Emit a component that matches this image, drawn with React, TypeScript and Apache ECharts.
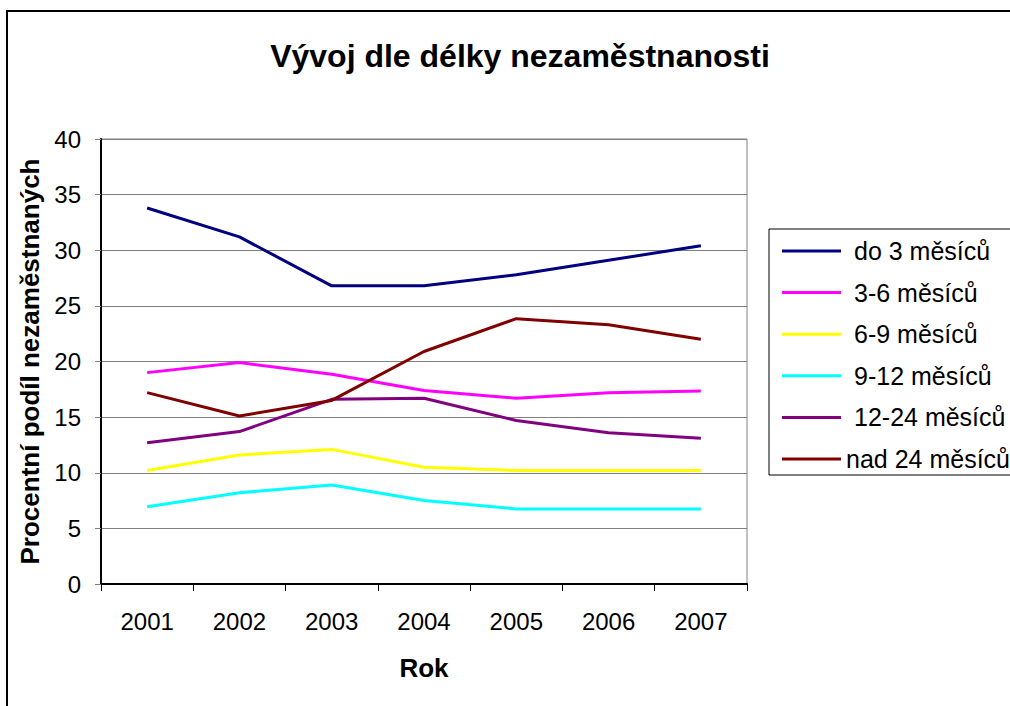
import React, { useEffect, useRef } from "react";
import * as echarts from "echarts";

const years = ["2001", "2002", "2003", "2004", "2005", "2006", "2007"];
const seriesNames = ["do 3 měsíců", "3-6 měsíců", "6-9 měsíců", "9-12 měsíců", "12-24 měsíců", "nad 24 měsíců"];
const do3 = [33.8, 31.2, 26.8, 26.8, 27.8, 29.1, 30.4];
const m3to6 = [19.0, 19.9, 18.85, 17.4, 16.7, 17.2, 17.35];
const m6to9 = [10.2, 11.6, 12.1, 10.5, 10.2, 10.2, 10.2];
const m9to12 = [6.95, 8.2, 8.9, 7.5, 6.75, 6.75, 6.75];
const m12to24 = [12.7, 13.7, 16.6, 16.7, 14.7, 13.6, 13.1];
const nad24 = [17.2, 15.1, 16.5, 20.9, 23.85, 23.3, 22.0];
const colors = ["#000080", "#FF00FF", "#FFFF00", "#00FFFF", "#800080", "#800000"];
const FONT = "'Liberation Sans', Arial, sans-serif";

export default function App() {
  const ref = useRef<HTMLDivElement>(null);
  useEffect(() => {
    if (!ref.current) return;
    const chart = echarts.init(ref.current, undefined, { renderer: "svg" });
    const allData = [do3, m3to6, m6to9, m9to12, m12to24, nad24];
    chart.setOption({
      animation: false,
      backgroundColor: "#ffffff",
      textStyle: { fontFamily: FONT },
      title: {
        text: "Vývoj dle délky nezaměstnanosti",
        left: 515,
        top: 35,
        textAlign: "center",
        textStyle: { fontFamily: FONT, fontSize: 32, fontWeight: "bold", color: "#000" },
      },
      graphic: [
        {
          type: "rect",
          shape: { x: 7, y: 11, width: 1100, height: 1000 },
          style: { fill: "none", stroke: "#000", lineWidth: 2 },
          silent: true,
          z: -1,
        },
      ],
      legend: {
        orient: "vertical",
        left: 769,
        top: 229,
        padding: [8, 30, 2, 13],
        itemGap: 13.6,
        itemWidth: 59,
        itemHeight: 3,
        icon: "rect",
        borderColor: "#000",
        borderWidth: 1,
        backgroundColor: "#fff",
        textStyle: { fontFamily: FONT, fontSize: 25, color: "#000", lineHeight: 28, padding: [0, 0, 0, 8] },
        data: seriesNames.map((n, i) =>
          i === 5 ? { name: n, textStyle: { padding: [0, 0, 0, 0] } } : { name: n }
        ),
      },
      grid: { left: 101, right: 263, top: 139, bottom: 122, show: true, borderColor: "#808080", borderWidth: 1 },
      xAxis: {
        type: "category",
        data: years,
        boundaryGap: true,
        name: "Rok",
        nameLocation: "middle",
        nameGap: 71,
        nameTextStyle: { fontFamily: FONT, fontSize: 26, fontWeight: "bold", color: "#000" },
        axisLine: { show: true, lineStyle: { color: "#000", width: 2 } },
        axisTick: { show: true, length: 7, interval: 0, lineStyle: { color: "#000", width: 1 } },
        axisLabel: { fontFamily: FONT, fontSize: 24, color: "#000", margin: 25, interval: 0 },
        splitLine: { show: false },
      },
      yAxis: {
        type: "value",
        min: 0,
        max: 40,
        interval: 5,
        name: "Procentní podíl nezaměstnaných",
        nameLocation: "middle",
        nameGap: 57,
        nameTextStyle: { fontFamily: FONT, fontSize: 26, fontWeight: "bold", color: "#000" },
        axisLine: { show: true, lineStyle: { color: "#000", width: 2 } },
        axisTick: { show: true, length: 6, lineStyle: { color: "#808080", width: 1 } },
        axisLabel: { fontFamily: FONT, fontSize: 24, color: "#000", margin: 20 },
        splitLine: { show: true, lineStyle: { color: "#808080", width: 1 } },
      },
      series: seriesNames.map((n, i) => ({
        name: n,
        type: "line",
        data: allData[i],
        symbol: "none",
        lineStyle: { color: colors[i], width: 3 },
        itemStyle: { color: colors[i] },
        emphasis: { disabled: true },
      })),
    });
    return () => chart.dispose();
  }, []);
  return <div ref={ref} style={{ position: "absolute", left: 0, top: 0, width: 1010, height: 706 }} />;
}
